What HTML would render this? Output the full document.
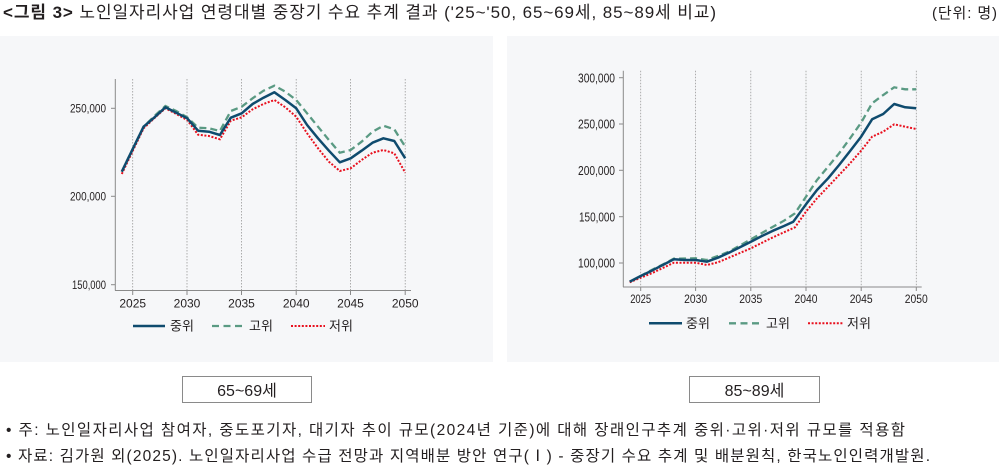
<!DOCTYPE html>
<html><head><meta charset="utf-8"><style>
html,body{margin:0;padding:0;background:#fff;width:1000px;height:467px;overflow:hidden}
svg{display:block}
text{font-family:"Liberation Sans","Noto Sans CJK KR",sans-serif;fill:#231f20}
.k{font-family:"Liberation Sans","Noto Sans CJK KR",sans-serif}
</style></head><body>
<svg width="1000" height="467" viewBox="0 0 1000 467" xmlns="http://www.w3.org/2000/svg">
<!-- title -->
<text x="3" y="18" font-size="17" textLength="713"><tspan font-weight="bold">&lt;그림 3&gt;</tspan> 노인일자리사업 연령대별 중장기 수요 추계 결과 ('25~'50, 65~69세, 85~89세 비교)</text>
<text x="997" y="18" font-size="15" text-anchor="end" textLength="65">(단위: 명)</text>

<!-- panels -->
<rect x="0" y="36" width="493" height="326" fill="#f6f7f9"/>
<rect x="507" y="36" width="492" height="326" fill="#f6f7f9"/>

<!-- LEFT CHART -->
<g stroke="#9a9a9a" stroke-width="0.8" stroke-dasharray="1.5 1.5">
<line x1="132.7" y1="79" x2="132.7" y2="290"/>
<line x1="187" y1="79" x2="187" y2="290"/>
<line x1="241.5" y1="79" x2="241.5" y2="290"/>
<line x1="296.2" y1="79" x2="296.2" y2="290"/>
<line x1="350.5" y1="79" x2="350.5" y2="290"/>
<line x1="405.2" y1="79" x2="405.2" y2="290"/>
</g>
<g stroke="#8a8a8a" stroke-width="1" fill="none">
<line x1="115.3" y1="79" x2="115.3" y2="290.5"/>
<line x1="115" y1="290.5" x2="411" y2="290.5"/>
<line x1="111" y1="108.3" x2="115.3" y2="108.3"/>
<line x1="111" y1="196.3" x2="115.3" y2="196.3"/>
<line x1="111" y1="284.7" x2="115.3" y2="284.7"/>
<line x1="132.7" y1="290.5" x2="132.7" y2="295"/>
<line x1="187" y1="290.5" x2="187" y2="295"/>
<line x1="241.5" y1="290.5" x2="241.5" y2="295"/>
<line x1="296.2" y1="290.5" x2="296.2" y2="295"/>
<line x1="350.5" y1="290.5" x2="350.5" y2="295"/>
<line x1="405.2" y1="290.5" x2="405.2" y2="295"/>
</g>
<g font-size="12" text-anchor="end">
<text x="106" y="112.5" textLength="36" lengthAdjust="spacingAndGlyphs">250,000</text>
<text x="106" y="200.5" textLength="36" lengthAdjust="spacingAndGlyphs">200,000</text>
<text x="106" y="289" textLength="34" lengthAdjust="spacingAndGlyphs">150,000</text>
</g>
<g font-size="12" text-anchor="middle">
<text x="132.7" y="307.5">2025</text>
<text x="187" y="307.5">2030</text>
<text x="241.5" y="307.5">2035</text>
<text x="296.2" y="307.5">2040</text>
<text x="350.5" y="307.5">2045</text>
<text x="405.2" y="307.5">2050</text>
</g>
<!-- series left -->
<polyline fill="none" stroke="#5a9a83" stroke-width="2.3" stroke-dasharray="7 4" points="121.8,171.7 132.7,149 143.6,126.7 154.5,116 165.4,106 176.3,111 187.2,117.3 198.1,127.7 209,128.3 219.9,131 230.8,111 241.7,106.7 252.6,98.3 263.5,90.7 274.4,85.7 285.3,91.7 296.2,100 307.1,113.3 318,126.7 328.9,140 339.8,152.7 350.7,150 361.6,141.7 372.5,131.7 383.4,125.7 394.3,129.3 405.2,146.7"/>
<polyline fill="none" stroke="#e8101e" stroke-width="2" stroke-dasharray="2 1.6" points="121.8,174 132.7,151 143.6,128.3 154.5,118 165.4,108.3 176.3,114 187.2,120 198.1,134.7 209,136 219.9,139.3 230.8,120.7 241.7,117.3 252.6,109.3 263.5,104 274.4,100 285.3,107.3 296.2,116.7 307.1,133.3 318,148.3 328.9,161.7 339.8,171 350.7,168.3 361.6,160 372.5,152.7 383.4,150 394.3,153.3 405.2,172.7"/>
<polyline fill="none" stroke="#0f4b6e" stroke-width="2.5" stroke-linejoin="round" points="121.8,171.7 132.7,149 143.6,126.7 154.5,117.3 165.4,107.3 176.3,112.7 187.2,118.3 198.1,130.7 209,131.7 219.9,135 230.8,117.7 241.7,113.3 252.6,104 263.5,97.7 274.4,92.3 285.3,100 296.2,108.3 307.1,125 318,138.3 328.9,150.7 339.8,162.3 350.7,158.3 361.6,150.7 372.5,142.7 383.4,138.3 394.3,141 405.2,158.3"/>
<!-- legend left -->
<line x1="133" y1="326" x2="165" y2="326" stroke="#0f4b6e" stroke-width="2.5"/>
<text x="170" y="330.5" font-size="13">중위</text>
<line x1="212" y1="326" x2="244" y2="326" stroke="#5a9a83" stroke-width="2.3" stroke-dasharray="7 4.5"/>
<text x="249" y="330.5" font-size="13">고위</text>
<line x1="291" y1="326" x2="325" y2="326" stroke="#e8101e" stroke-width="2" stroke-dasharray="2 1.6"/>
<text x="329" y="330.5" font-size="13">저위</text>

<!-- RIGHT CHART -->
<g stroke="#9a9a9a" stroke-width="0.8" stroke-dasharray="1.5 1.5">
<line x1="640.7" y1="70.7" x2="640.7" y2="286.7"/>
<line x1="695.6" y1="70.7" x2="695.6" y2="286.7"/>
<line x1="750.8" y1="70.7" x2="750.8" y2="286.7"/>
<line x1="806" y1="70.7" x2="806" y2="286.7"/>
<line x1="861.2" y1="70.7" x2="861.2" y2="286.7"/>
<line x1="916.3" y1="70.7" x2="916.3" y2="286.7"/>
</g>
<g stroke="#8a8a8a" stroke-width="1" fill="none">
<line x1="623.3" y1="70.7" x2="623.3" y2="287"/>
<line x1="623" y1="287" x2="921.7" y2="287"/>
<line x1="619" y1="77.7" x2="623.3" y2="77.7"/>
<line x1="619" y1="124" x2="623.3" y2="124"/>
<line x1="619" y1="170.3" x2="623.3" y2="170.3"/>
<line x1="619" y1="216.7" x2="623.3" y2="216.7"/>
<line x1="619" y1="263" x2="623.3" y2="263"/>
<line x1="640.7" y1="287" x2="640.7" y2="291"/>
<line x1="695.6" y1="287" x2="695.6" y2="291"/>
<line x1="750.8" y1="287" x2="750.8" y2="291"/>
<line x1="806" y1="287" x2="806" y2="291"/>
<line x1="861.2" y1="287" x2="861.2" y2="291"/>
<line x1="916.3" y1="287" x2="916.3" y2="291"/>
</g>
<g font-size="13" text-anchor="end">
<text x="615" y="82.3" textLength="37" lengthAdjust="spacingAndGlyphs">300,000</text>
<text x="615" y="128.6" textLength="37" lengthAdjust="spacingAndGlyphs">250,000</text>
<text x="615" y="174.9" textLength="37" lengthAdjust="spacingAndGlyphs">200,000</text>
<text x="615" y="221.3" textLength="36" lengthAdjust="spacingAndGlyphs">150,000</text>
<text x="615" y="267.6" textLength="37" lengthAdjust="spacingAndGlyphs">100,000</text>
</g>
<g font-size="11.5" text-anchor="middle">
<text x="640.7" y="303" textLength="21" lengthAdjust="spacingAndGlyphs">2025</text>
<text x="695.6" y="303" textLength="23" lengthAdjust="spacingAndGlyphs">2030</text>
<text x="750.8" y="303" textLength="23" lengthAdjust="spacingAndGlyphs">2035</text>
<text x="806" y="303" textLength="23" lengthAdjust="spacingAndGlyphs">2040</text>
<text x="861.2" y="303" textLength="23" lengthAdjust="spacingAndGlyphs">2045</text>
<text x="916.3" y="303" textLength="23" lengthAdjust="spacingAndGlyphs">2050</text>
</g>
<!-- series right -->
<polyline fill="none" stroke="#5a9a83" stroke-width="2.3" stroke-dasharray="7 4" points="629.7,281.7 640.7,276 651.7,270 662.8,264.5 673.8,258.7 684.8,258.5 695.8,258.3 706.8,260 717.9,256 728.9,251.7 739.9,245.5 750.9,239.3 761.9,233 773,226.7 784,220.7 795,213.3 806,196.7 817,180 828.1,166.7 839.1,153.3 850.1,138.3 861.1,122.7 872.1,103.3 883.2,95 894.2,87.3 905.2,89.3 916.2,89.3"/>
<polyline fill="none" stroke="#e8101e" stroke-width="2" stroke-dasharray="2 1.6" points="629.7,282.3 640.7,277.7 651.7,273.3 662.8,268 673.8,262.7 684.8,262.7 695.8,262.7 706.8,265 717.9,262.3 728.9,257.7 739.9,253 750.9,248.3 761.9,242.8 773,237.3 784,232.3 795,227.3 806,211.7 817,198.3 828.1,186.7 839.1,175 850.1,163.3 861.1,150.7 872.1,136.7 883.2,131.7 894.2,124.3 905.2,126.7 916.2,129"/>
<polyline fill="none" stroke="#0f4b6e" stroke-width="2.5" stroke-linejoin="round" points="629.7,281.7 640.7,276 651.7,270.7 662.8,265 673.8,259.3 684.8,260 695.8,260 706.8,261.7 717.9,257.7 728.9,252.7 739.9,247.3 750.9,241.7 761.9,236 773,230.7 784,226 793.3,221.7 806,204.3 817,190 828.1,178.3 839.1,165 850.1,151 861.1,136.7 872.1,119.3 883.2,114 894.2,104 905.2,107.3 916.2,108.3"/>
<!-- legend right -->
<line x1="649" y1="323.3" x2="682" y2="323.3" stroke="#0f4b6e" stroke-width="2.5"/>
<text x="686" y="328" font-size="13">중위</text>
<line x1="729" y1="323.3" x2="760" y2="323.3" stroke="#5a9a83" stroke-width="2.3" stroke-dasharray="7 4.5"/>
<text x="766" y="328" font-size="13">고위</text>
<line x1="808" y1="323.3" x2="843" y2="323.3" stroke="#e8101e" stroke-width="2" stroke-dasharray="2 1.6"/>
<text x="847" y="328" font-size="13">저위</text>

<!-- boxes -->
<rect x="182.5" y="376.5" width="129" height="26" fill="#fff" stroke="#8a8a8a" stroke-width="1"/>
<text x="247" y="396" font-size="16" text-anchor="middle">65~69세</text>
<rect x="689.5" y="376.5" width="130" height="26" fill="#fff" stroke="#8a8a8a" stroke-width="1"/>
<text x="754.5" y="396" font-size="16" text-anchor="middle">85~89세</text>

<!-- notes -->
<text x="6" y="435" font-size="15.5" textLength="899">• 주: 노인일자리사업 참여자, 중도포기자, 대기자 추이 규모(2024년 기준)에 대해 장래인구추계 중위·고위·저위 규모를 적용함</text>
<text x="6" y="461" font-size="15.5" textLength="924">• 자료: 김가원 외(2025). 노인일자리사업 수급 전망과 지역배분 방안 연구(Ⅰ) - 중장기 수요 추계 및 배분원칙, 한국노인인력개발원.</text>
</svg>
</body></html>
